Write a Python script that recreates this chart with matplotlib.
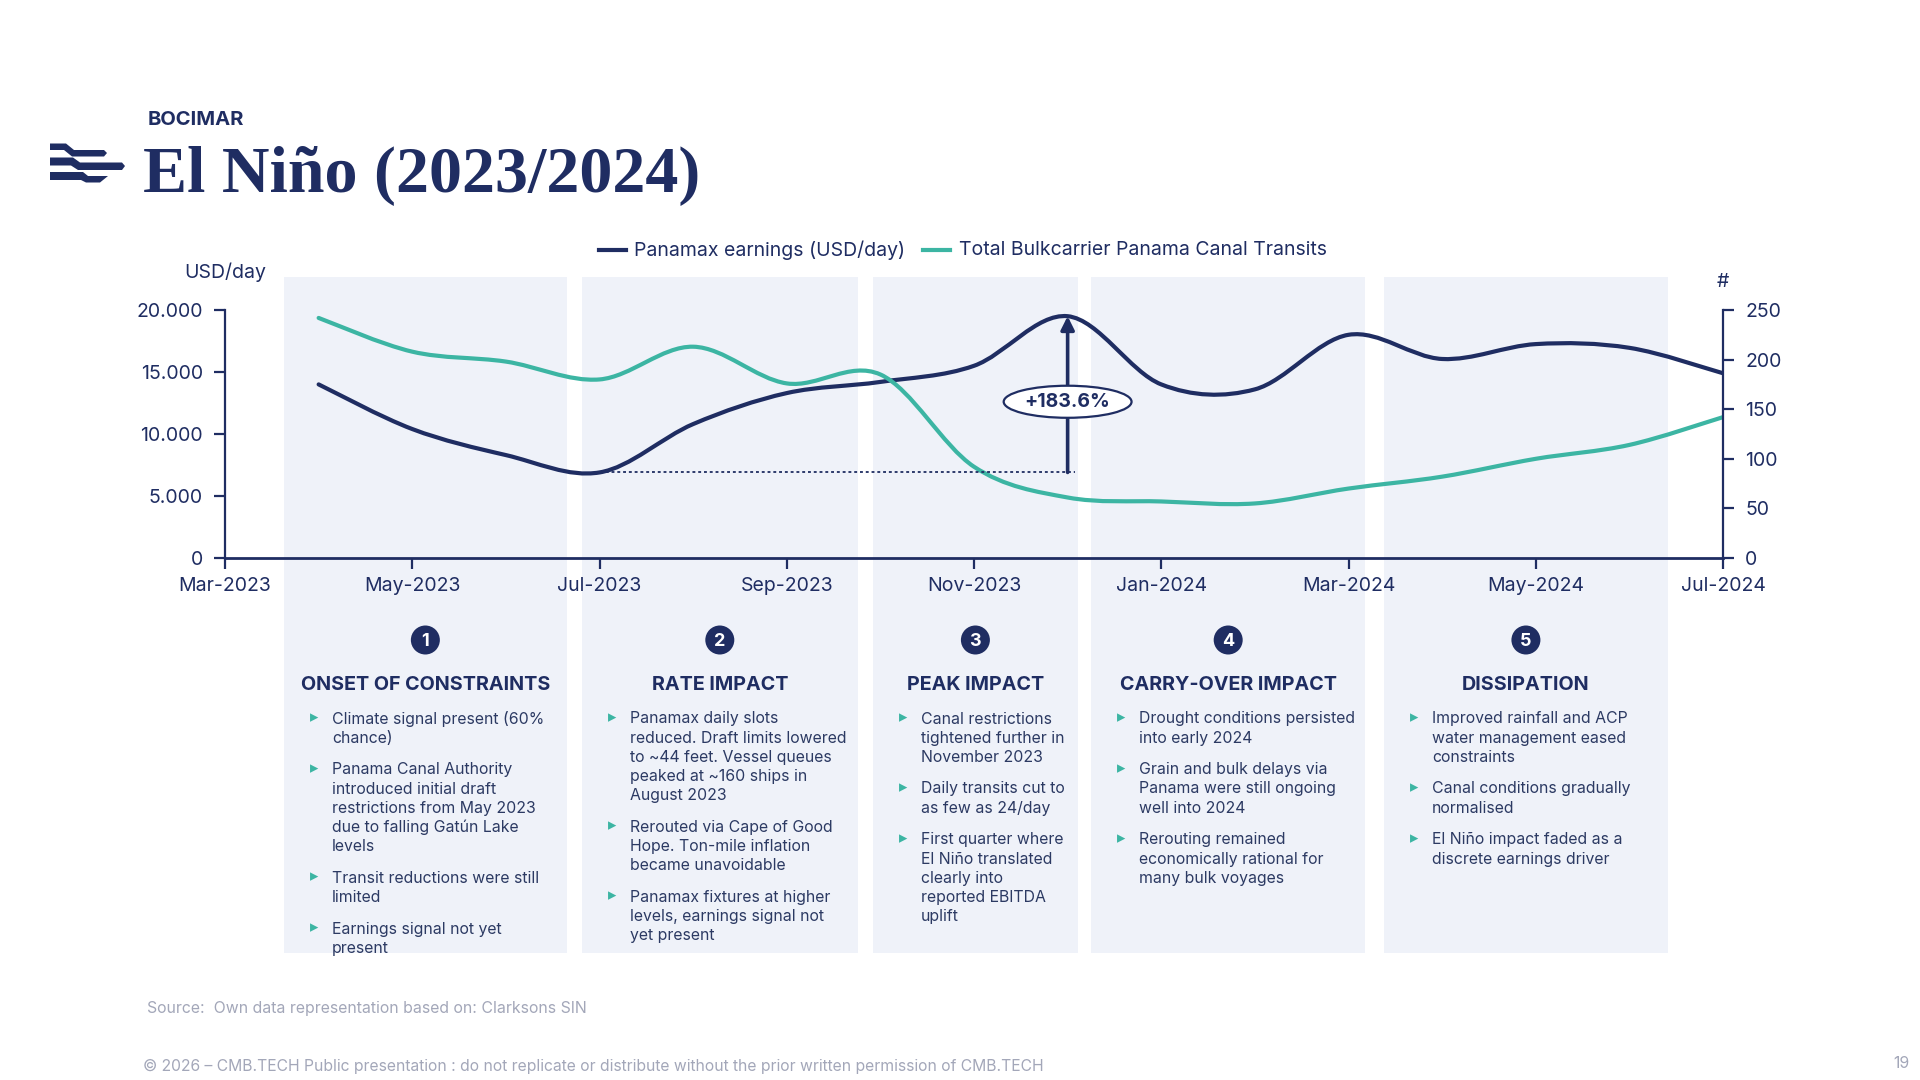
import matplotlib
matplotlib.use("Agg")
import matplotlib.pyplot as plt
import numpy as np
import pandas as pd
from matplotlib.path import Path
from matplotlib.patches import PathPatch, Rectangle, Ellipse, Polygon
from matplotlib.lines import Line2D
import matplotlib.transforms as mtransforms

# ---------------- data ----------------
months = ["2023-04", "2023-05", "2023-06", "2023-07", "2023-08", "2023-09", "2023-10",
          "2023-11", "2023-12", "2024-01", "2024-02", "2024-03", "2024-04", "2024-05",
          "2024-06", "2024-07"]
panamax_earnings = [14000, 10400, 8300, 6900, 10800, 13300, 14200, 15500, 19500,
                    14000, 13600, 18000, 16050, 17250, 16950, 14900]
canal_transits = [242, 208, 198, 180, 213, 176, 185, 92, 61, 57, 55, 70, 82, 100,
                  114, 142]
tick_labels = ["Mar-2023", "May-2023", "Jul-2023", "Sep-2023", "Nov-2023",
               "Jan-2024", "Mar-2024", "May-2024", "Jul-2024"]
left_ticks = [0, 5000, 10000, 15000, 20000]
left_tick_labels = ["0", "5.000", "10.000", "15.000", "20.000"]
right_ticks = [0, 50, 100, 150, 200, 250]
uplift_label = "+183.6%"

phase_titles = ["ONSET OF CONSTRAINTS", "RATE IMPACT", "PEAK IMPACT",
                "CARRY-OVER IMPACT", "DISSIPATION"]
phase_bullets = [
    [["Climate signal present (60%", "chance)"],
     ["Panama Canal Authority", "introduced initial draft", "restrictions from May 2023",
      "due to falling Gatún Lake", "levels"],
     ["Transit reductions were still", "limited"],
     ["Earnings signal not yet", "present"]],
    [["Panamax daily slots", "reduced. Draft limits lowered", "to ~44 feet. Vessel queues",
      "peaked at ~160 ships in", "August 2023"],
     ["Rerouted via Cape of Good", "Hope. Ton-mile inflation", "became unavoidable"],
     ["Panamax fixtures at higher", "levels, earnings signal not", "yet present"]],
    [["Canal restrictions", "tightened further in", "November 2023"],
     ["Daily transits cut to", "as few as 24/day"],
     ["First quarter where", "El Niño translated", "clearly into", "reported EBITDA", "uplift"]],
    [["Drought conditions persisted", "into early 2024"],
     ["Grain and bulk delays via", "Panama were still ongoing", "well into 2024"],
     ["Rerouting remained", "economically rational for", "many bulk voyages"]],
    [["Improved rainfall and ACP", "water management eased", "constraints"],
     ["Canal conditions gradually", "normalised"],
     ["El Niño impact faded as a", "discrete earnings driver"]],
]

# ---------------- style ----------------
NAVY = "#1f2d62"
TEAL = "#3cb5a3"
PANEL = "#eff2f9"
TEXT = "#2c3a63"
GREY = "#a3a7b9"
W, H = 1920, 1080

plt.rcParams["font.family"] = ["Inter", "DejaVu Sans"]

fig = plt.figure(figsize=(19.2, 10.8), dpi=100)
fig.patch.set_facecolor("white")


def fx(x):
    return x / W


def fy(y):
    return 1 - y / H


# axes geometry (pixels)
AX_L, AX_R, AX_B, AX_T = 225, 1723, 558, 310
ax = fig.add_axes([fx(AX_L), fy(AX_B), (AX_R - AX_L) / W, (AX_B - AX_T) / H])
ax.patch.set_visible(False)
ax2 = ax.twinx()
ax2.patch.set_visible(False)

start = pd.Period("2023-03", "M")
xm = np.array([(pd.Period(m, "M") - start).n for m in months], dtype=float)
XMIN, XMAX = 0, 16
ax.set_xlim(XMIN, XMAX)
ax.set_ylim(0, 20000)
ax2.set_ylim(0, 250)


def smooth_path(x, y):
    pts = np.column_stack([x, y]).astype(float)
    n = len(pts)
    verts = [pts[0]]
    codes = [Path.MOVETO]
    for i in range(n - 1):
        p0 = pts[i - 1] if i > 0 else pts[i]
        p1 = pts[i]
        p2 = pts[i + 1]
        p3 = pts[i + 2] if i + 2 < n else pts[i + 1]
        c1 = p1 + (p2 - p0) / 6.0
        c2 = p2 - (p3 - p1) / 6.0
        verts += [c1, c2, p2]
        codes += [Path.CURVE4] * 3
    return Path(verts, codes)


ax.add_patch(PathPatch(smooth_path(xm, panamax_earnings), fill=False, ec=NAVY,
                       lw=3.0, capstyle="round", joinstyle="round", zorder=3))
ax2.add_patch(PathPatch(smooth_path(xm, canal_transits), fill=False, ec=TEAL,
                        lw=3.0, capstyle="round", joinstyle="round", zorder=2))

# axes styling
ax.set_xticks(np.arange(XMIN, XMAX + 1, 2))
ax.set_xticklabels(tick_labels)
ax.set_yticks(left_ticks)
ax.set_yticklabels(left_tick_labels)
ax2.set_yticks(right_ticks)
ax2.set_yticklabels([str(v) for v in right_ticks])
for a in (ax, ax2):
    a.spines["top"].set_visible(False)
    for s in ("left", "right", "bottom"):
        a.spines[s].set_color(NAVY)
        a.spines[s].set_linewidth(1.6)
ax.spines["right"].set_visible(False)
ax2.spines["left"].set_visible(False)
ax2.spines["bottom"].set_visible(False)
ax.spines["bottom"].set_linewidth(2.0)
ax.tick_params(axis="x", length=8, width=1.6, color=NAVY, labelcolor=NAVY,
               labelsize=14, pad=6)
ax.tick_params(axis="y", length=8, width=1.6, color=NAVY, labelcolor=NAVY,
               labelsize=14, pad=8)
ax2.tick_params(axis="y", length=8, width=1.6, color=NAVY, labelcolor=NAVY,
                labelsize=14, pad=8)

# phase panels (behind the axes)
PANEL_X = [(0.63, 3.65), (3.81, 6.76), (6.92, 9.11), (9.25, 12.18), (12.38, 15.41)]
PANEL_TOP, PANEL_BOT = 277, 953
blend = mtransforms.blended_transform_factory(ax.transData, fig.transFigure)
for x0, x1 in PANEL_X:
    fig.add_artist(Rectangle((x0, fy(PANEL_BOT)), x1 - x0, (PANEL_BOT - PANEL_TOP) / H,
                             transform=blend, fc=PANEL, ec="none", zorder=-5))

# uplift annotation
base = min(panamax_earnings)
i_min = int(np.argmin(panamax_earnings))
i_pk = int(np.argmax(panamax_earnings))
peak = panamax_earnings[i_pk]
ax2.plot([xm[i_min], xm[i_pk] + 0.08], [base, base], transform=ax.transData,
         color=NAVY, lw=1.3, ls=(0, (1.6, 1.6)), zorder=4)
ax2.annotate("", xy=(xm[i_pk], peak), xytext=(xm[i_pk], base),
             xycoords=ax.transData, textcoords=ax.transData,
             arrowprops=dict(arrowstyle="-|>", color=NAVY, lw=2.6, mutation_scale=20,
                             shrinkA=0, shrinkB=0), zorder=5)
ax2.text(xm[i_pk], 12600, uplift_label, transform=ax.transData, ha="center",
         va="center", fontsize=14, fontweight="bold", color=NAVY, zorder=6,
         bbox=dict(boxstyle="ellipse,pad=0.12", fc="white", ec=NAVY, lw=1.6))

# axis unit labels
fig.text(fx(266), fy(272), "USD/day", ha="right", va="center", fontsize=14, color=NAVY)
fig.text(fx(1723), fy(282), "#", ha="center", va="center", fontsize=14, color=NAVY)

# legend
for (lx0, lx1, tx, lab, col) in [(599, 626, 634, "Panamax earnings (USD/day)", NAVY),
                                 (923, 950, 959, "Total Bulkcarrier Panama Canal Transits", TEAL)]:
    fig.add_artist(Line2D([fx(lx0), fx(lx1)], [fy(250), fy(250)], color=col, lw=3,
                          transform=fig.transFigure))
    fig.text(fx(tx), fy(250), lab, ha="left", va="center", fontsize=14, color=NAVY)

# panels text
def px_of(m):
    return AX_L + (m - XMIN) / (XMAX - XMIN) * (AX_R - AX_L)

LINE = 19.1
GAP = 12.7
for k, ((x0, x1), title, bullets) in enumerate(zip(PANEL_X, phase_titles, phase_bullets)):
    left = px_of(x0)
    cx = (px_of(x0) + px_of(x1)) / 2
    r = 14.5
    fig.add_artist(Ellipse((fx(cx), fy(640)), 2 * r / W, 2 * r / H,
                           transform=fig.transFigure, fc=NAVY, ec="none"))
    fig.text(fx(cx), fy(641), str(k + 1), ha="center", va="center", fontsize=13,
             fontweight="bold", color="white")
    fig.text(fx(cx), fy(685), title, ha="center", va="center", fontsize=14.2,
             fontweight="bold", color=NAVY)
    y = 719
    for b in bullets:
        fig.text(fx(left + 30), fy(y - 2), "\u25B8", ha="center", va="center",
                 fontsize=12, color=TEAL, family="DejaVu Sans")
        for line in b:
            fig.text(fx(left + 48), fy(y), line, ha="left", va="center",
                     fontsize=11.4, color=TEXT)
            y += LINE
        y += GAP

# title block
fig.text(fx(148), fy(120), "BOCIMAR", ha="left", va="center", fontsize=14.5,
         fontweight="bold", color=NAVY)
fig.text(fx(143), fy(192), "El Niño (2023/2024)", ha="left", va="baseline",
         fontsize=47.5, fontweight="bold", color=NAVY, family="Liberation Serif")

logo_shapes = [
    [(50, 143.5), (66, 143.5), (74, 150), (104, 150), (107, 153), (104, 156.5),
     (72, 156.5), (64, 150), (50, 150)],
    [(50, 157.5), (73, 157.5), (80, 162.5), (122, 162.5), (125, 166), (122, 170),
     (78, 170), (71, 165.5), (50, 165.5)],
    [(50, 172), (83, 172), (88, 176), (108, 176), (100, 182.5), (86, 182.5),
     (81, 180), (50, 180)],
]
for shp in logo_shapes:
    fig.add_artist(Polygon([(fx(a), fy(b)) for a, b in shp], closed=True,
                           transform=fig.transFigure, fc=NAVY, ec="none"))

# footer
fig.text(fx(147), fy(1009), "Source:  Own data representation based on: Clarksons SIN",
         ha="left", va="center", fontsize=11.4, color=GREY)
fig.text(fx(143), fy(1066),
         "© 2026 – CMB.TECH Public presentation : do not replicate or distribute without the prior written permission of CMB.TECH",
         ha="left", va="center", fontsize=11.3, color=GREY)
fig.text(fx(1910), fy(1064), "19", ha="right", va="center", fontsize=11.4, color=GREY)

fig.savefig("out.png", dpi=100, facecolor="white")
